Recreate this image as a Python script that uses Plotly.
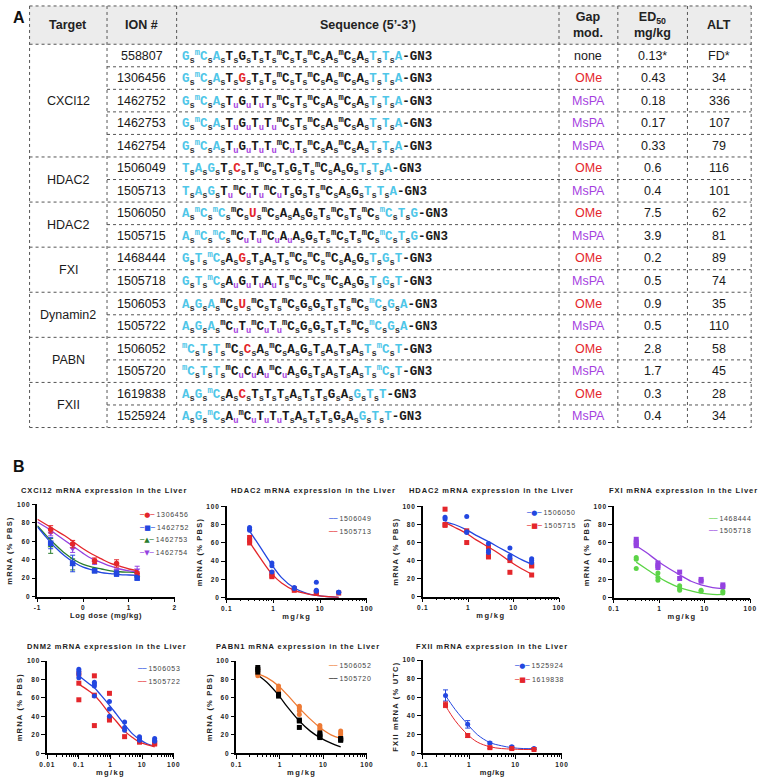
import plotly.graph_objects as go

W, H = 767, 783

# ---------------- panel A: table data ----------------
TARGETS = ["CXCl12", "HDAC2", "HDAC2", "FXI", "Dynamin2", "PABN", "FXII"]
TARGET_SPAN = [5, 2, 2, 2, 2, 2, 2]
ION = ["558807", "1306456", "1462752", "1462753", "1462754", "1506049", "1505713",
       "1506050", "1505715", "1468444", "1505718", "1506053", "1505722",
       "1506052", "1505720", "1619838", "1525924"]
# nucleotides: "mC" = 5-methyl C ; first/last three are wings
SEQ_NT = [
    "G mC A T G T T mC T mC A mC A T T A",
    "G mC A T G T T mC T mC A mC A T T A",
    "G mC A T G T T mC T mC A mC A T T A",
    "G mC A T G T T mC T mC A mC A T T A",
    "G mC A T G T T mC T mC A mC A T T A",
    "T A G T C T mC T G T mC A G T T A",
    "T A G T mC T mC T G T mC A G T T A",
    "A mC mC mC U mC A A G T mC T mC mC T G",
    "A mC mC mC T mC A A G T mC T mC mC T G",
    "G T mC A G T A T mC mC mC A G T G T",
    "G T mC A G T A T mC mC mC A G T G T",
    "A G A mC U mC T mC G G T T mC mC G A",
    "A G A mC T mC T mC G G T T mC mC G A",
    "mC T T mC C A mC A G T A T A T mC T",
    "mC T T mC C A mC A G T A T A T mC T",
    "A G mC A C T T T A T T G A G T T",
    "A G mC A mC T T T A T T G A G T T",
]
# linkage after each nucleotide: s = PS, u = MsPA
SEQ_LINK = [
    "sssssssssssssss",
    "sssssssssssssss",
    "sssuuusssssssss",
    "sssuuuussssssss",
    "sssuuuuusssssss",
    "sssssssssssssss",
    "sssuuuussssssss",
    "sssssssssssssss",
    "sssuuuussssssss",
    "sssssssssssssss",
    "sssuuuussssssss",
    "sssssssssssssss",
    "sssuuuussssssss",
    "sssssssssssssss",
    "sssuuuussssssss",
    "sssssssssssssss",
    "sssuuuussssssss",
]
SEQ_OME = [-1, 4, -1, -1, -1, 4, -1, 4, -1, 4, -1, 4, -1, 4, -1, 4, -1]
GAP_MOD = ["none", "OMe", "MsPA", "MsPA", "MsPA", "OMe", "MsPA", "OMe", "MsPA",
           "OMe", "MsPA", "OMe", "MsPA", "OMe", "MsPA", "OMe", "MsPA"]
ED50 = ["0.13*", "0.43", "0.18", "0.17", "0.33", "0.6", "0.4", "7.5", "3.9",
        "0.2", "0.5", "0.9", "0.5", "2.8", "1.7", "0.3", "0.4"]
ALT = ["FD*", "34", "336", "107", "79", "116", "101", "62", "81", "89", "74",
       "35", "110", "58", "45", "28", "34"]

# ---------------- panel B: dose-response data ----------------
CX_LOGDOSE = [-0.71, -0.23, 0.25, 0.73, 1.18]
CX_1306456 = [73, 57, 39, 36, 25]
CX_1306456_SD = [4, 4, 3, 4, 2]
CX_1462752 = [58, 36, 28, 25, 20]
CX_1462752_SD = [6, 9, 2, 3, 1]
CX_1462753 = [55, 35, 28, 27, 23]
CX_1462753_SD = [8, 6, 2, 2, 2]
CX_1462754 = [69, 52, 37, 28, 29]
CX_1462754_SD = [3, 4, 2, 2, 4]
CX_FIT_X = [-1, -0.8, -0.6, -0.4, -0.2, 0, 0.2, 0.4, 0.6, 0.8, 1.0, 1.2]
CX_FIT_1306456 = [84, 78, 72, 66, 59, 52, 46, 41, 36, 33, 30, 28]
CX_FIT_1462752 = [76, 64, 53, 44, 37, 32, 29, 26, 25, 24, 23.5, 23]
CX_FIT_1462753 = [77, 66, 56, 47, 40, 35, 32, 30, 28, 27, 26.5, 26]
CX_FIT_1462754 = [81, 75, 68, 61, 54, 47, 41, 37, 33, 30, 28, 27]

DOSE = [0.31, 0.93, 2.8, 8.3, 25]
FIT_DOSE = [0.31, 0.5, 0.93, 1.5, 2.8, 5, 8.3, 15, 25]

HD_1506049 = [[77, 75, 74], [38, 35, 28], [11, 10], [17, 8, 7], [6, 6]]
HD_1505713 = [[66, 63, 60], [27, 24, 23], [10, 8], [6, 5], [5]]
HD_FIT_1506049 = [73, 57, 36, 22, 10.5, 5, 2.5, 1, 0.3]
HD_FIT_1505713 = [61, 45, 26, 16, 8, 4.5, 2.5, 1, 0.3]

H3_1506050 = [[88, 86], [89, 72, 71], [59, 51, 49], [54, 45, 43], [42, 40, 38]]
H3_1505715 = [[97, 80, 79], [73, 60], [55, 45, 44], [40, 27], [35, 34, 24]]
H3_FIT_1506050 = [83, 80, 74, 68, 61, 54, 48, 41, 36]
H3_FIT_1505715 = [82, 77, 70, 63, 55, 47, 39, 31, 25]

FX_1468444 = [[44, 42, 32], [27, 22, 19], [13, 10, 8], [8, 7], [7, 5]]
FX_1505718 = [[64, 61, 59, 57], [38, 35, 33], [28, 21], [20, 18], [14, 12]]
FX_FIT_1468444 = [39, 32, 23, 17, 11, 7.5, 5, 3.5, 3.5]
FX_FIT_1505718 = [57, 50, 40, 33, 25, 18, 14, 11, 10]

DN_DOSE = [0.1, 0.31, 0.93, 2.8, 8.3, 25]
DN_1506053 = [[91, 89, 86, 82], [77, 75, 73, 62], [56, 48, 40], [34, 28, 25], [18, 16, 14], [16, 14, 13]]
DN_1505722 = [[86, 76, 58], [84, 63, 30], [65, 38, 36], [18], [13, 12], [11, 10]]
DN_FIT_DOSE = [0.1, 0.2, 0.31, 0.5, 0.93, 1.5, 2.8, 5, 8.3, 15, 25]
DN_FIT_1506053 = [84, 76, 71, 63, 52, 43, 31, 21, 15, 10, 8]
DN_FIT_1505722 = [75, 68, 63, 55, 43, 35, 24, 17, 12, 9, 7]

PA_1506052 = [[91, 88, 86, 84], [73, 70, 67], [51, 49, 46, 42], [30, 28, 26], [24, 22, 20]]
PA_1505720 = [[93, 91, 88], [64, 62], [36, 35, 28], [22, 20, 18, 17], [16, 15, 14]]
PA_FIT_1506052 = [86, 82, 73, 63, 49, 37, 28, 20, 16]
PA_FIT_1505720 = [85, 77, 63, 50, 35, 24, 17, 11, 7]

F12_1525924 = [62, 31, 11, 7, 5]
F12_1525924_SD = [6, 4, 1, 1, 1]
F12_1619838 = [52, 19, 6, 5, 4]
F12_1619838_SD = [3, 2, 1, 1, 0.5]
F12_FIT_1525924 = [62, 47, 31, 20, 11.5, 8, 6, 5, 5]
F12_FIT_1619838 = [51, 35, 20, 12, 7, 5, 4.5, 4, 4]

# ---------------- styling ----------------
SANS = "Liberation Sans, Arial, sans-serif"
MONO = "Liberation Mono, Courier New, monospace"
CYAN = "#4fc6e8"
RED = "#e4262b"
PURPLE = "#a63fe0"
BLUE = "#2347e0"
GREEN_DK = "#2a7d2e"
GREEN_LT = "#5cd447"
VIOLET = "#9442e0"
ORANGE = "#ee7a34"
INK = "#1a1a1a"

COL_X = [22, 101, 172, 562, 622, 693, 758]
HEAD_TOP, HEAD_BOT, ROW_H = 2, 40.6, 22.75


def fx(x):
    return x / W


def fy(y):
    return 1 - y / H


def ann(x, y, text, size=12.5, color=INK, xanchor="center", family=SANS, weight="normal", **kw):
    return dict(x=fx(x), y=fy(y), xref="paper", yref="paper", text=text, showarrow=False,
                xanchor=xanchor, yanchor="middle",
                font=dict(family=family, size=size, color=color, weight=weight), **kw)


def spaced(text, ls):
    return f"<span style='letter-spacing:{ls}px'>{text}</span>"


def seq_html(nts, links, ome):
    toks = nts.split()
    out = []
    for i, t in enumerate(toks):
        if i == ome:
            c = RED
        elif i < 3 or i >= len(toks) - 3:
            c = CYAN
        else:
            c = INK
        base = f"<sup>m</sup>{t[-1]}" if t.startswith("m") else t
        out.append(f"<span style='color:{c}'>{base}</span>")
        if i < len(links):
            lc = PURPLE if links[i] == "u" else "#333"
            out.append(f"<span style='color:{lc}'><sub>{links[i]}</sub></span>")
    out.append("-GN3")
    return "".join(out)


annotations = []
shapes = []

# ---- table frame ----
shapes.append(dict(type="rect", xref="paper", yref="paper", x0=fx(COL_X[0]), x1=fx(COL_X[-1]),
                   y0=fy(HEAD_BOT), y1=fy(HEAD_TOP), fillcolor="#ececec", line=dict(width=0),
                   layer="below"))
dot = dict(color="#555", width=1, dash="dot")
n_rows = len(ION)
table_bot = HEAD_BOT + n_rows * ROW_H
for cx in COL_X:
    shapes.append(dict(type="line", xref="paper", yref="paper", x0=fx(cx), x1=fx(cx),
                       y0=fy(HEAD_TOP), y1=fy(table_bot), line=dot))
group_ends = []
acc = 0
for s in TARGET_SPAN:
    acc += s
    group_ends.append(acc)
for k in range(n_rows + 1):
    yy = HEAD_BOT + k * ROW_H
    x0 = COL_X[0] if (k == 0 or k in group_ends) else COL_X[1]
    shapes.append(dict(type="line", xref="paper", yref="paper", x0=fx(x0), x1=fx(COL_X[-1]),
                       y0=fy(yy), y1=fy(yy), line=dot))
shapes.append(dict(type="line", xref="paper", yref="paper", x0=fx(COL_X[0]), x1=fx(COL_X[-1]),
                   y0=fy(HEAD_TOP), y1=fy(HEAD_TOP), line=dot))

# ---- headers ----
hy = (HEAD_TOP + HEAD_BOT) / 2
mids = [(COL_X[i] + COL_X[i + 1]) / 2 for i in range(len(COL_X) - 1)]
headers = ["Target", "ION #", "Sequence (5’-3’)", "Gap<br>mod.", "ED<sub>50</sub><br>mg/kg", "ALT"]
for m, h in zip(mids, headers):
    annotations.append(ann(m, hy, h, size=12.5, weight="bold", color="#222"))

# ---- body ----
start = 0
for name, span in zip(TARGETS, TARGET_SPAN):
    yc = HEAD_BOT + (start + span / 2) * ROW_H
    annotations.append(ann(mids[0], yc, name, size=12.5))
    start += span
mod_color = {"none": INK, "OMe": RED, "MsPA": PURPLE}
for i in range(n_rows):
    yc = HEAD_BOT + (i + 0.5) * ROW_H
    annotations.append(ann(mids[1], yc, ION[i], size=12.5))
    annotations.append(ann(COL_X[2] + 3, yc + 1, seq_html(SEQ_NT[i], SEQ_LINK[i], SEQ_OME[i]),
                           size=12.5, family=MONO, weight="bold", xanchor="left"))
    annotations.append(ann(mids[3], yc, GAP_MOD[i], size=12.5, color=mod_color[GAP_MOD[i]]))
    annotations.append(ann(mids[4], yc, ED50[i], size=12.5))
    annotations.append(ann(mids[5], yc, ALT[i], size=12.5))

annotations.append(ann(11, 14, "A", size=16, weight="bold", color="#111"))
annotations.append(ann(11, 467, "B", size=16, weight="bold", color="#111"))

# ---------------- panel B: plots ----------------
fig = go.Figure()
layout_axes = {}

PANELS = [
    # (x0, x1, ytop, ybot, log, xrange, title, xtitle, ytitle, title_x, title_y)
    (30, 170, 505, 598, False, [-1, 2], "CXCl12 mRNA expression in the Liver", "Log dose (mg/kg)", "mRNA (% PBS)", 98, 491),
    (223, 366, 507, 599, True, [-1, 2], "HDAC2 mRNA expression in the Liver", "mg/kg", "mRNA (% PBS)", 312, 491),
    (423, 562, 507, 598, True, [-1, 2], "HDAC2 mRNA expression in the Liver", "mg/kg", "mRNA (% PBS)", 493, 491),
    (618, 757, 507, 599, True, [-1, 2], "FXI mRNA expression in the Liver", "mg/kg", "mRNA (% PBS)", 689, 491),
    (40, 169, 663, 756, True, [-2, 2], "DNM2 mRNA expression in the Liver", "mg/kg", "mRNA (% PBS)", 100, 648),
    (233, 366, 663, 756, True, [-1, 2], "PABN1 mRNA expression in the Liver", "mg/kg", "mRNA (% PBS)", 296, 648),
    (423, 565, 662, 756, True, [-1, 2], "FXII mRNA expression in the Liver", "mg/kg", "FXII mRNA (% UTC)", 494, 648),
]

TICKFONT = dict(family=SANS, size=6.5, color="#222", weight="bold")
TITLEFONT = dict(family=SANS, size=7.5, color="#222", weight="bold")

for k, (x0, x1, yt, yb, is_log, xr, title, xt, ytit, tx, ty) in enumerate(PANELS, start=1):
    sfx = "" if k == 1 else str(k)
    if is_log:
        decs = list(range(xr[0], xr[1] + 1))
        tv = [10.0 ** d for d in decs]
        tt = [spaced(f"{v:g}", 0.8) for v in tv]
        minor_tv = [m * 10.0 ** d for d in decs[:-1] for m in range(2, 10)]
        minor = dict(ticks="outside", ticklen=2, tickwidth=1, tickcolor="black", tickvals=minor_tv)
        xtype = "log"
    else:
        tv = [-1, 0, 1, 2]
        tt = [spaced(str(v), 0.8) for v in tv]
        minor = dict(ticks="outside", ticklen=2, tickwidth=1, tickcolor="black", dtick=0.5)
        xtype = "linear"
    layout_axes["xaxis" + sfx] = dict(
        domain=[fx(x0), fx(x1)], anchor="y" + sfx, type=xtype, range=xr,
        showline=True, linecolor="black", linewidth=1.5, ticks="outside", ticklen=4,
        tickwidth=1.2, tickcolor="black", tickvals=tv, ticktext=tt, tickfont=TICKFONT,
        showgrid=False, zeroline=False, minor=minor,
        title=dict(text=spaced(xt, 1.4 if xt == "mg/kg" and k != 7 else 0.6), font=TITLEFONT, standoff=3),
    )
    layout_axes["yaxis" + sfx] = dict(
        domain=[fy(yb), fy(yt)], anchor="x" + sfx, range=[0, 100],
        showline=True, linecolor="black", linewidth=1.5, ticks="outside", ticklen=4,
        tickwidth=1.2, tickcolor="black", tickvals=[0, 20, 40, 60, 80, 100],
        ticktext=[spaced(str(v), 0.8) for v in [0, 20, 40, 60, 80, 100]], tickfont=TICKFONT,
        showgrid=False, zeroline=False,
        title=dict(text=spaced(ytit, 1.2), font=TITLEFONT, standoff=3),
    )
    annotations.append(ann(tx, ty, spaced(title, 0.9), size=7.5, weight="bold", color="#222"))


def ax(k):
    return ("x", "y") if k == 1 else (f"x{k}", f"y{k}")


def flat(doses, groups):
    xs = [d for d, g in zip(doses, groups) for _ in g]
    ys = [v for g in groups for v in g]
    return xs, ys


def add_fit(k, x, y, color, width=1.3):
    xa, ya = ax(k)
    fig.add_trace(go.Scatter(x=x, y=y, mode="lines", line=dict(color=color, width=width, shape="spline"),
                             xaxis=xa, yaxis=ya, hoverinfo="skip"))


def add_pts(k, x, y, color, symbol, size=5, err=None):
    xa, ya = ax(k)
    kw = {}
    if err is not None:
        kw["error_y"] = dict(type="data", array=err, color=color, thickness=1, width=2.5)
    fig.add_trace(go.Scatter(x=x, y=y, mode="markers", marker=dict(color=color, symbol=symbol, size=size),
                             xaxis=xa, yaxis=ya, cliponaxis=False, **kw))


# 1: CXCl12
for fit, pts, sd, col, sym in [
    (CX_FIT_1462753, CX_1462753, CX_1462753_SD, GREEN_DK, "triangle-up"),
    (CX_FIT_1462754, CX_1462754, CX_1462754_SD, VIOLET, "triangle-down"),
    (CX_FIT_1306456, CX_1306456, CX_1306456_SD, RED, "circle"),
    (CX_FIT_1462752, CX_1462752, CX_1462752_SD, BLUE, "square"),
]:
    add_fit(1, CX_FIT_X, fit, col)
    add_pts(1, CX_LOGDOSE, pts, col, sym, size=5.5, err=sd)

# 2: HDAC2 (1506049 / 1505713)
add_fit(2, FIT_DOSE, HD_FIT_1506049, BLUE)
add_fit(2, FIT_DOSE, HD_FIT_1505713, RED)
add_pts(2, *flat(DOSE, HD_1505713), RED, "square")
add_pts(2, *flat(DOSE, HD_1506049), BLUE, "circle")

# 3: HDAC2 (1506050 / 1505715)
add_fit(3, FIT_DOSE, H3_FIT_1506050, BLUE)
add_fit(3, FIT_DOSE, H3_FIT_1505715, RED)
add_pts(3, *flat(DOSE, H3_1505715), RED, "square")
add_pts(3, *flat(DOSE, H3_1506050), BLUE, "circle")

# 4: FXI
add_fit(4, FIT_DOSE, FX_FIT_1468444, GREEN_LT)
add_fit(4, FIT_DOSE, FX_FIT_1505718, VIOLET)
add_pts(4, *flat(DOSE, FX_1468444), GREEN_LT, "circle")
add_pts(4, *flat(DOSE, FX_1505718), VIOLET, "square")

# 5: DNM2
add_fit(5, DN_FIT_DOSE, DN_FIT_1506053, BLUE)
add_fit(5, DN_FIT_DOSE, DN_FIT_1505722, RED)
add_pts(5, *flat(DN_DOSE, DN_1505722), RED, "square")
add_pts(5, *flat(DN_DOSE, DN_1506053), BLUE, "circle")

# 6: PABN1
add_fit(6, FIT_DOSE, PA_FIT_1506052, ORANGE)
add_fit(6, FIT_DOSE, PA_FIT_1505720, "black")
add_pts(6, *flat(DOSE, PA_1506052), ORANGE, "circle")
add_pts(6, *flat(DOSE, PA_1505720), "black", "square")

# 7: FXII
add_fit(7, FIT_DOSE, F12_FIT_1525924, BLUE, width=1)
add_fit(7, FIT_DOSE, F12_FIT_1619838, RED, width=1)
add_pts(7, DOSE, F12_1525924, BLUE, "circle", err=F12_1525924_SD)
add_pts(7, DOSE, F12_1619838, RED, "square", err=F12_1619838_SD)

# ---- legends (text keys) ----
SYM = {"circle": "●", "square": "■", "triangle-up": "▲", "triangle-down": "▼", None: ""}
LEGENDS = [
    (132, 516, 12.6, [("1306456", RED, "circle"), ("1462752", BLUE, "square"),
                      ("1462753", GREEN_DK, "triangle-up"), ("1462754", VIOLET, "triangle-down")]),
    (324, 520, 13, [("1506049", BLUE, None), ("1505713", RED, None)]),
    (526, 514, 13, [("1506050", BLUE, "circle"), ("1505715", RED, "square")]),
    (712, 520, 12, [("1468444", GREEN_LT, None), ("1505718", VIOLET, None)]),
    (130, 671, 13, [("1506053", BLUE, None), ("1505722", RED, None)]),
    (324, 668, 13, [("1506052", ORANGE, None), ("1505720", "black", None)]),
    (514, 668, 14, [("1525924", BLUE, "circle"), ("1619838", RED, "square")]),
]
for lx, ly, gap, items in LEGENDS:
    for j, (name, col, sym) in enumerate(items):
        key = f"─{SYM[sym]}─" if sym else "──"
        txt = (f"<span style='font-family:DejaVu Sans;color:{col}'>{key}</span> "
               f"<span style='letter-spacing:0.7px'>{name}</span>")
        annotations.append(ann(lx, ly + j * gap, txt, size=7, color="#444", xanchor="left"))

fig.update_layout(
    width=W, height=H, margin=dict(l=0, r=0, t=0, b=0),
    paper_bgcolor="white", plot_bgcolor="white", showlegend=False,
    annotations=annotations, shapes=shapes, **layout_axes,
)
fig.write_html(
    "out.html",
    config={"displayModeBar": False},
    post_script="document.body.style.margin='0';document.body.style.overflow='hidden';",
)
